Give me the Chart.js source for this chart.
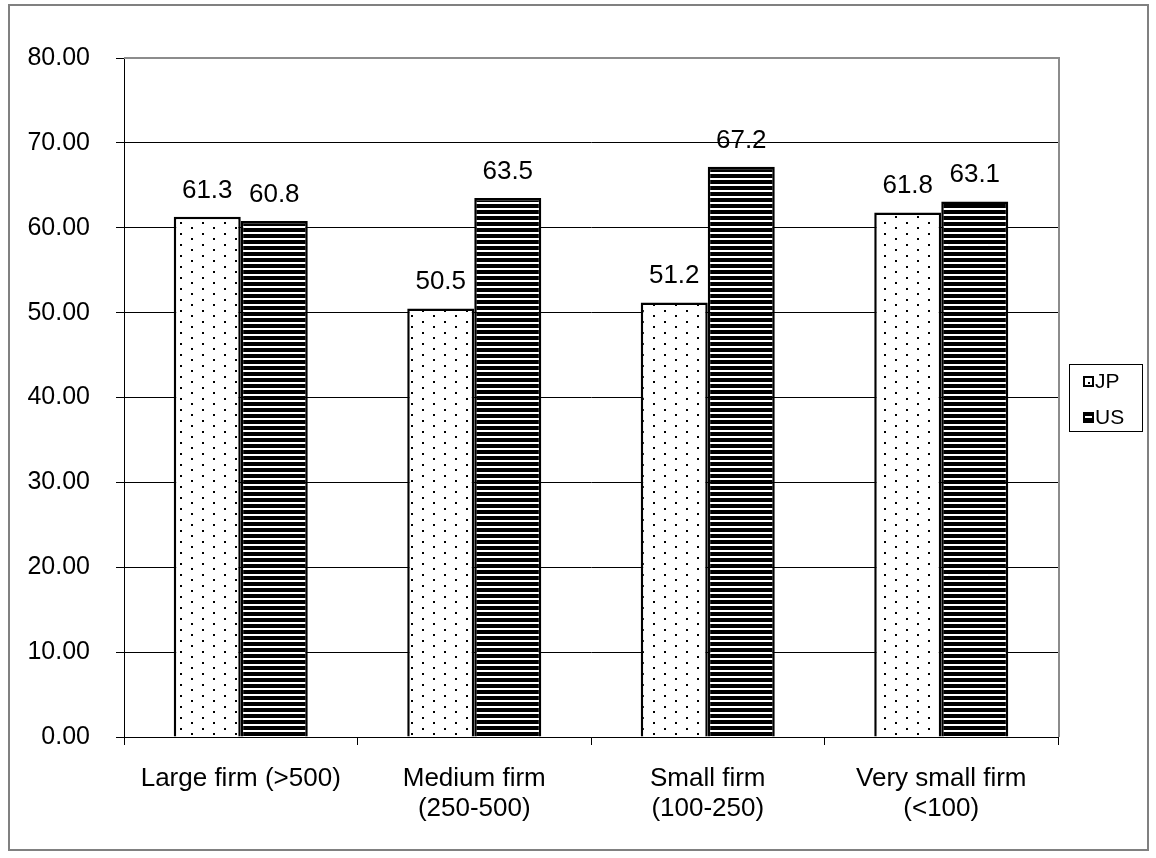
<!DOCTYPE html>
<html>
<head>
<meta charset="utf-8">
<style>
  html, body { margin: 0; padding: 0; background: #fff; }
  #wrap { position: relative; width: 1156px; height: 858px; }
</style>
<script src="https://cdn.jsdelivr.net/npm/chart.js@4/dist/chart.umd.min.js"></script>
</head>
<body>
<div id="wrap"><canvas id="firmChart" width="1156" height="858"></canvas></div>
<script>
// values
const categories = [
  "Large firm (>500)",
  ["Medium firm", "(250-500)"],
  ["Small firm", "(100-250)"],
  ["Very small firm", "(<100)"]
];
const seriesNames = ["JP", "US"];
const jpValues = [61.3, 50.5, 51.2, 61.8];
const usValues = [60.8, 63.5, 67.2, 63.1];

const FONT = "'Liberation Sans', Arial, sans-serif";

// fill patterns: dots for JP, horizontal stripes for US
function dotPattern() {
  const c = document.createElement("canvas");
  c.width = 22; c.height = 11;
  const g = c.getContext("2d");
  g.fillStyle = "#fff";
  g.fillRect(0, 0, 22, 11);
  g.fillStyle = "#000";
  g.fillRect(4, 2, 2, 2);
  g.fillRect(15, 7, 2, 2);
  return g.createPattern(c, "repeat");
}
function stripePattern() {
  const c = document.createElement("canvas");
  c.width = 8; c.height = 6;
  const g = c.getContext("2d");
  g.fillStyle = "#000";
  g.fillRect(0, 0, 8, 6);
  g.fillStyle = "#fff";
  g.fillRect(0, 4, 8, 2);
  return g.createPattern(c, "repeat");
}

const ctx = document.getElementById("firmChart").getContext("2d");

// value labels above bars, frame, plot border and legend box
const extras = {
  id: "extras",
  afterDatasetsDraw(chart) {
    const g = chart.ctx;
    g.save();
    g.font = "26px " + FONT;
    g.fillStyle = "#000";
    g.textAlign = "center";
    g.textBaseline = "alphabetic";
    chart.data.datasets.forEach((ds, i) => {
      chart.getDatasetMeta(i).data.forEach((bar, j) => {
        g.fillText(ds.data[j].toFixed(1), bar.x, bar.y - 19);
      });
    });
    g.restore();
  },
  afterDraw(chart) {
    const g = chart.ctx;
    const a = chart.chartArea;
    g.save();
    // plot area border (top and right, grey)
    g.strokeStyle = "#8c8c8c";
    g.lineWidth = 2;
    g.beginPath();
    g.moveTo(a.left, a.top);
    g.lineTo(a.right + 1, a.top);
    g.lineTo(a.right + 1, a.bottom);
    g.stroke();
    // outer frame
    g.strokeStyle = "#808080";
    g.lineWidth = 2;
    g.strokeRect(9, 5, 1139, 845);
    // legend
    g.strokeStyle = "#000";
    g.lineWidth = 1;
    g.strokeRect(1069.5, 364.5, 73, 67);
    g.font = "21px " + FONT;
    g.textAlign = "left";
    g.textBaseline = "middle";
    const rows = [381, 417];
    seriesNames.forEach((name, i) => {
      const y = rows[i];
      g.fillStyle = "#000";
      g.fillRect(1083, y - 5, 11, 11);
      g.fillStyle = "#fff";
      if (i === 0) {
        g.fillRect(1085, y - 3, 7, 7);
        g.fillStyle = "#000";
        g.fillRect(1088, y + 1, 2, 2);
      } else {
        g.fillRect(1085, y - 1, 7, 2);
      }
      g.fillStyle = "#000";
      g.fillText(name, 1095, y + 1);
    });
    g.restore();
  }
};

const config = {
  type: "bar",
  data: {
    labels: categories,
    datasets: [
      {
        label: seriesNames[0],
        data: jpValues,
        backgroundColor: dotPattern(),
        borderColor: "#000",
        borderWidth: 2.5
      },
      {
        label: seriesNames[1],
        data: usValues,
        backgroundColor: stripePattern(),
        borderColor: "#000",
        borderWidth: 2.5
      }
    ]
  },
  options: {
    responsive: false,
    animation: false,
    layout: { padding: { left: 0, top: 58, right: 98, bottom: 0 } },
    datasets: {
      bar: { categoryPercentage: 0.574, barPercentage: 1 }
    },
    plugins: {
      legend: { display: false },
      tooltip: { enabled: false }
    },
    scales: {
      x: {
        offset: true,
        grid: {
          offset: true,
          drawOnChartArea: false,
          tickLength: 8,
          color: "#000"
        },
        border: { color: "#000", width: 1 },
        ticks: {
          color: "#000",
          font: { family: FONT, size: 26, lineHeight: 1.15 },
          padding: 19,
          maxRotation: 0,
          autoSkip: false
        },
        afterFit(s) { s.height = 121; }
      },
      y: {
        min: 0,
        max: 80,
        ticks: {
          stepSize: 10,
          color: "#000",
          font: { family: FONT, size: 25 },
          padding: 26,
          callback: (v) => Number(v).toFixed(2)
        },
        grid: { color: "#000", tickLength: 8, lineWidth: 1 },
        border: { color: "#000", width: 1 },
        afterFit(s) { s.width = 124; }
      }
    }
  },
  plugins: [extras]
};

const firmChart = new Chart(ctx, config);
</script>
</body>
</html>
